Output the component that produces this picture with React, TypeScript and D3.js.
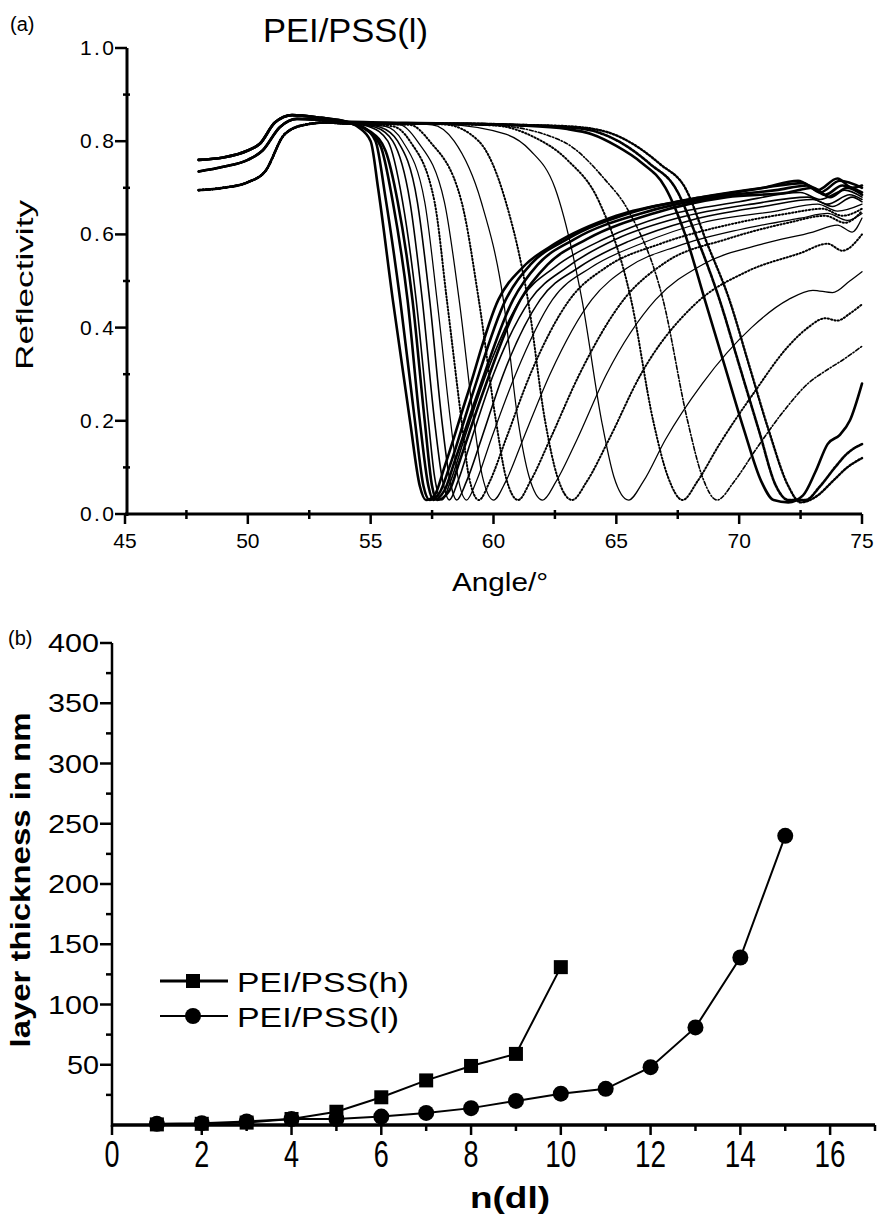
import React from 'react';
import * as d3 from 'd3';

type P = [number, number];

// ---------- Panel (a): SPR reflectivity spectra (angle in deg, reflectivity) ----------
const headHigh: P[] = [[48,0.76],[49,0.765],[50,0.78],[50.5,0.795],[51.1,0.84],[51.8,0.856],[53,0.85],[54,0.842]];
const headMid: P[] = [[48,0.735],[49,0.745],[50,0.76],[50.6,0.78],[51.3,0.83],[52,0.848],[53,0.845],[54,0.84]];
const headLow: P[] = [[48,0.695],[49,0.70],[50,0.712],[50.7,0.735],[51.5,0.815],[52.3,0.835],[53.2,0.84],[54,0.838]];

const specT1: P[] = [...headHigh,[54.5,0.83],[55.0,0.80],[55.3,0.70],[55.9,0.46],[56.6,0.20],[57.0,0.06],[57.25,0.03],[57.6,0.04],[58.0,0.10],[58.9,0.25],[60.2,0.46],[61.2,0.53],[62.5,0.58],[65,0.64],[68,0.675],[71,0.70],[72.4,0.715],[73.2,0.695],[74,0.72],[74.6,0.70],[75,0.705]];
const specT2: P[] = [...headHigh,[54.7,0.83],[55.2,0.80],[55.6,0.68],[56.2,0.46],[56.8,0.20],[57.15,0.06],[57.4,0.03],[57.8,0.045],[58.2,0.10],[59.1,0.25],[60.5,0.46],[61.5,0.535],[63,0.59],[65.5,0.645],[68.5,0.68],[71,0.70],[72.6,0.71],[73.3,0.69],[74.1,0.715],[75,0.70]];
const specT3: P[] = [...headMid,[54.8,0.825],[55.4,0.79],[55.9,0.67],[56.5,0.46],[57.0,0.20],[57.35,0.06],[57.55,0.03],[58.0,0.05],[58.4,0.11],[59.3,0.25],[60.8,0.46],[61.8,0.535],[63.3,0.59],[66,0.645],[69,0.68],[71.5,0.695],[72.8,0.705],[73.5,0.685],[74.2,0.705],[75,0.69]];
const specT4: P[] = [...headMid,[55.0,0.82],[55.6,0.78],[56.1,0.67],[56.7,0.46],[57.2,0.20],[57.5,0.06],[57.7,0.03],[58.2,0.05],[58.6,0.11],[59.5,0.25],[61.1,0.46],[62.2,0.535],[63.8,0.59],[66.5,0.645],[69.5,0.68],[72,0.69],[73,0.70],[73.7,0.68],[74.4,0.70],[75,0.685]];
const specC1: P[] = [...headMid,[55.0,0.83],[55.7,0.80],[56.3,0.67],[56.85,0.46],[57.35,0.20],[57.6,0.08],[57.9,0.03],[58.25,0.07],[58.8,0.16],[59.7,0.30],[61.1,0.46],[62.5,0.53],[64.5,0.59],[67,0.64],[70,0.67],[72.5,0.69],[73.3,0.675],[74.3,0.695],[75,0.68]];
const specC2: P[] = [...headMid,[55.2,0.83],[55.9,0.80],[56.6,0.67],[57.1,0.46],[57.6,0.20],[57.9,0.08],[58.2,0.03],[58.55,0.07],[59.1,0.16],[60.0,0.30],[61.5,0.46],[63.0,0.53],[65,0.59],[67.5,0.635],[70.5,0.665],[72.8,0.68],[73.6,0.665],[74.5,0.685],[75,0.675]];
const specC3: P[] = [...headHigh,[55.4,0.83],[56.1,0.80],[56.9,0.67],[57.4,0.46],[57.9,0.20],[58.2,0.08],[58.5,0.03],[58.9,0.07],[59.5,0.16],[60.4,0.30],[61.9,0.46],[63.5,0.53],[65.5,0.585],[68,0.63],[71,0.66],[73,0.675],[73.8,0.66],[74.6,0.68],[75,0.67]];
const specC4: P[] = [...headLow,[55.6,0.832],[56.3,0.80],[57.2,0.67],[57.7,0.46],[58.25,0.20],[58.55,0.08],[58.9,0.03],[59.3,0.07],[59.9,0.16],[60.9,0.30],[62.4,0.46],[64.0,0.53],[66,0.58],[68.5,0.625],[71.5,0.65],[73.2,0.665],[74,0.65],[75,0.665]];
const specC5: P[] = [...headLow,[55.9,0.832],[56.6,0.80],[57.6,0.67],[58.1,0.46],[58.7,0.20],[59.0,0.08],[59.4,0.03],[59.85,0.07],[60.5,0.16],[61.5,0.30],[63.1,0.46],[64.6,0.53],[66.8,0.58],[69.5,0.62],[72,0.645],[73.4,0.655],[74.2,0.64],[75,0.655]];
const specC6: P[] = [...headMid,[56.2,0.835],[56.9,0.80],[58.0,0.67],[58.6,0.46],[59.2,0.20],[59.55,0.08],[60.0,0.03],[60.5,0.07],[61.2,0.16],[62.3,0.30],[64.0,0.46],[65.5,0.53],[67.5,0.575],[70,0.61],[72.5,0.635],[73.6,0.645],[74.4,0.63],[75,0.645]];
const specC7: P[] = [...headLow,[56.6,0.835],[57.4,0.80],[58.7,0.67],[59.4,0.46],[60.1,0.20],[60.5,0.08],[61.0,0.03],[61.5,0.07],[62.3,0.16],[63.5,0.30],[65.3,0.46],[67,0.54],[69.5,0.59],[72,0.625],[73.5,0.64],[74.3,0.625],[75,0.65]];
const specC8: P[] = [...headMid,[56,0.838],[57.5,0.835],[58.4,0.80],[59.5,0.67],[60.4,0.46],[61.0,0.20],[61.45,0.08],[62.0,0.03],[62.55,0.07],[63.4,0.16],[64.6,0.30],[66.6,0.46],[68.5,0.535],[71,0.58],[73,0.605],[74,0.62],[74.6,0.605],[75,0.635]];
const specC9: P[] = [...headLow,[56,0.838],[58,0.836],[59.4,0.80],[60.5,0.67],[61.4,0.46],[62.1,0.20],[62.6,0.08],[63.2,0.03],[63.8,0.07],[64.7,0.16],[66.0,0.30],[68.2,0.45],[70.3,0.52],[72.5,0.56],[73.6,0.58],[74.2,0.565],[75,0.60]];
const specC10: P[] = [...headMid,[56,0.838],[58,0.836],[60.5,0.815],[61.5,0.78],[62.5,0.70],[63.6,0.46],[64.4,0.20],[64.9,0.08],[65.5,0.03],[66.1,0.07],[67.0,0.16],[68.5,0.28],[70.5,0.40],[72.0,0.46],[73.0,0.48],[73.8,0.475],[74.5,0.50],[75,0.52]];
const specC11: P[] = [...headLow,[56,0.838],[60,0.834],[61.6,0.81],[63,0.76],[64.3,0.67],[65.6,0.46],[66.5,0.20],[67.1,0.08],[67.7,0.03],[68.3,0.07],[69.2,0.15],[70.6,0.26],[72.0,0.36],[72.8,0.40],[73.5,0.42],[74.0,0.415],[74.5,0.43],[75,0.45]];
const specC12: P[] = [...headMid,[56,0.838],[60,0.834],[62.8,0.80],[64.5,0.72],[65.5,0.65],[66.9,0.46],[67.9,0.20],[68.5,0.08],[69.1,0.03],[69.8,0.07],[70.7,0.14],[71.8,0.22],[72.8,0.28],[73.6,0.31],[74.2,0.33],[75,0.36]];
const specR1: P[] = [...headHigh,[58,0.838],[61,0.834],[63,0.826],[64,0.815],[65,0.79],[66,0.755],[67,0.70],[67.8,0.60],[68.6,0.46],[69.4,0.32],[70.2,0.18],[70.9,0.07],[71.4,0.03],[72,0.025],[72.6,0.04],[73.1,0.09],[73.6,0.15],[74.1,0.17],[74.5,0.20],[75,0.28]];
const specR2: P[] = [...headLow,[58,0.838],[61,0.835],[63,0.83],[64.2,0.82],[65.4,0.79],[66.4,0.75],[67.4,0.70],[68.3,0.59],[69.2,0.46],[70,0.32],[70.8,0.18],[71.5,0.06],[72.0,0.03],[72.7,0.03],[73.3,0.06],[73.9,0.10],[74.4,0.13],[75,0.15]];
const specR3: P[] = [...headLow,[58,0.838],[61,0.835],[63,0.832],[64.6,0.82],[65.8,0.79],[66.8,0.75],[67.8,0.70],[68.7,0.58],[69.6,0.46],[70.4,0.32],[71.2,0.18],[72.0,0.06],[72.5,0.025],[73.2,0.04],[73.8,0.07],[74.4,0.10],[75,0.12]];

const reflTicks = [0, 0.2, 0.4, 0.6, 0.8, 1.0];
const reflTickLabels = ['0.0', '0.2', '0.4', '0.6', '0.8', '1.0'];
const angleTicks = [45, 50, 55, 60, 65, 70, 75];

// ---------- Panel (b): layer thickness ----------
const layersH = [1, 2, 3, 4, 5, 6, 7, 8, 9, 10];
const thickH = [0.5, 1, 2, 5, 11, 23, 37, 49, 59, 131];
const layersL = [1, 2, 3, 4, 5, 6, 7, 8, 9, 10, 11, 12, 13, 14, 15];
const thickL = [1, 1.5, 3, 5, 5, 7, 10, 14, 20, 26, 30, 48, 81, 139, 240];
const thickTicks = [50, 100, 150, 200, 250, 300, 350, 400];
const layerTicks = [0, 2, 4, 6, 8, 10, 12, 14, 16];
const seriesNames = ['PEI/PSS(h)', 'PEI/PSS(l)'];

const FONT = 'Liberation Sans, Arial, sans-serif';

export default function App() {
  const xA = d3.scaleLinear().domain([45, 75]).range([125, 862]);
  const yA = d3.scaleLinear().domain([0, 1]).range([514, 48]);
  const xB = d3.scaleLinear().domain([0, 17]).range([112, 875]);
  const yB = d3.scaleLinear().domain([0, 400]).range([1125, 643]);

  const lineA = d3.line<P>().x(d => xA(d[0])).y(d => yA(d[1])).curve(d3.curveMonotoneX);
  const lineB = d3.line<[number, number]>().x(d => xB(d[0])).y(d => yB(d[1]));

  const bold = { w: 2.6, dash: undefined as string | undefined };
  const solid = { w: 1.6, dash: undefined as string | undefined };
  const thin = { w: 1.25, dash: undefined as string | undefined };
  const dot = { w: 2.0, dash: '1.2 2.2' };
  const dashdot = { w: 1.6, dash: '4 2 1.2 2' };
  const boldDash = { w: 2.6, dash: '2.5 1.5' };
  const boldDot = { w: 2.4, dash: '1.5 2' };

  const spectra: { d: P[]; s: { w: number; dash?: string } }[] = [
    { d: specT1, s: bold }, { d: specT2, s: bold }, { d: specT3, s: bold }, { d: specT4, s: bold },
    { d: specC1, s: solid }, { d: specC2, s: solid }, { d: specC3, s: solid }, { d: specC4, s: thin },
    { d: specC5, s: dot }, { d: specC6, s: thin }, { d: specC7, s: dot }, { d: specC8, s: thin },
    { d: specC9, s: dot }, { d: specC10, s: thin }, { d: specC11, s: dot }, { d: specC12, s: dashdot },
    { d: specR1, s: bold }, { d: specR2, s: boldDash }, { d: specR3, s: boldDot },
  ];

  const minorA = d3.range(0.1, 1.0, 0.2);
  const minorAx = d3.range(47.5, 75, 5);
  const minorB = d3.range(25, 400, 50);
  const minorBx = d3.range(1, 17.5, 2);

  const dataH: [number, number][] = layersH.map((n, i) => [n, thickH[i]]);
  const dataL: [number, number][] = layersL.map((n, i) => [n, thickL[i]]);

  return (
    <div style={{ position: 'absolute', left: 0, top: 0 }}>
      <svg width={877} height={1222} style={{ display: 'block', background: '#fff' }} fontFamily={FONT}>
        {/* ===== Panel (a) ===== */}
        <text x={10} y={31} fontSize={20}>(a)</text>
        <text x={263} y={42} fontSize={34} textLength={165} lengthAdjust="spacingAndGlyphs">PEI/PSS(l)</text>

        <g fill="none" stroke="#000" strokeLinecap="round" strokeLinejoin="round">
          {spectra.map((c, i) => (
            <path key={i} d={lineA(c.d) || ''} strokeWidth={c.s.w} strokeDasharray={c.s.dash} />
          ))}
        </g>

        {/* axes a */}
        <line x1={xA(45) + 2} x2={xA(45) + 2} y1={yA(1)} y2={yA(0) + 2} stroke="#000" strokeWidth={3} />
        <line x1={xA(45)} x2={xA(75)} y1={yA(0)} y2={yA(0)} stroke="#000" strokeWidth={3} />
        {reflTicks.map((t, i) => (
          <g key={'ya' + i}>
            <line x1={xA(45) - 10} x2={xA(45) + 2} y1={yA(t)} y2={yA(t)} stroke="#000" strokeWidth={2.5} />
            <text x={114} y={yA(t) + 7} fontSize={21} textAnchor="end" textLength={34} lengthAdjust="spacing">{reflTickLabels[i]}</text>
          </g>
        ))}
        {minorA.map((t, i) => (
          <line key={'yam' + i} x1={xA(45) - 2} x2={xA(45) + 5} y1={yA(t)} y2={yA(t)} stroke="#000" strokeWidth={2.5} />
        ))}
        {angleTicks.map((t, i) => (
          <g key={'xa' + i}>
            <line x1={xA(t)} x2={xA(t)} y1={yA(0)} y2={yA(0) + 10} stroke="#000" strokeWidth={2.5} />
            <text x={xA(t)} y={548} fontSize={21} textAnchor="middle">{String(t)}</text>
          </g>
        ))}
        {minorAx.map((t, i) => (
          <line key={'xam' + i} x1={xA(t)} x2={xA(t)} y1={yA(0) - 4} y2={yA(0) + 5} stroke="#000" strokeWidth={2.5} />
        ))}
        <text transform="translate(33,285) rotate(-90)" fontSize={24} textAnchor="middle" textLength={170} lengthAdjust="spacingAndGlyphs">Reflectivity</text>
        <text x={452} y={591} fontSize={25} textLength={96} lengthAdjust="spacingAndGlyphs">Angle/°</text>

        {/* ===== Panel (b) ===== */}
        <text x={8} y={645} fontSize={20}>(b)</text>

        <line x1={xB(0)} x2={xB(0)} y1={yB(400)} y2={yB(0) + 2} stroke="#000" strokeWidth={2.5} />
        <line x1={xB(0)} x2={xB(17)} y1={yB(0)} y2={yB(0)} stroke="#000" strokeWidth={3.5} />
        {thickTicks.map((t, i) => (
          <g key={'yb' + i}>
            <line x1={xB(0) - 12} x2={xB(0)} y1={yB(t)} y2={yB(t)} stroke="#000" strokeWidth={2.5} />
            <text x={99} y={yB(t) + 9} fontSize={26} textAnchor="end" textLength={t >= 100 ? 51 : 32} lengthAdjust="spacingAndGlyphs">{String(t)}</text>
          </g>
        ))}
        {minorB.map((t, i) => (
          <line key={'ybm' + i} x1={xB(0) - 6} x2={xB(0)} y1={yB(t)} y2={yB(t)} stroke="#000" strokeWidth={2.5} />
        ))}
        {layerTicks.map((t, i) => (
          <g key={'xb' + i}>
            <line x1={xB(t)} x2={xB(t)} y1={yB(0)} y2={yB(0) + 10} stroke="#000" strokeWidth={2.5} />
            <text x={xB(t)} y={1167} fontSize={36} textAnchor="middle" textLength={t >= 10 ? 31 : 15} lengthAdjust="spacingAndGlyphs">{String(t)}</text>
          </g>
        ))}
        {minorBx.map((t, i) => (
          <line key={'xbm' + i} x1={xB(t)} x2={xB(t)} y1={yB(0)} y2={yB(0) + 6} stroke="#000" strokeWidth={2.5} />
        ))}

        <path d={lineB(dataL) || ''} fill="none" stroke="#000" strokeWidth={2} />
        <path d={lineB(dataH) || ''} fill="none" stroke="#000" strokeWidth={2} />
        {dataL.map((d, i) => (
          <circle key={'cl' + i} cx={xB(d[0])} cy={yB(d[1])} r={8} fill="#000" />
        ))}
        {dataH.map((d, i) => (
          <rect key={'sh' + i} x={xB(d[0]) - 7} y={yB(d[1]) - 7} width={14} height={14} fill="#000" />
        ))}

        {/* legend */}
        <line x1={160} x2={228} y1={981} y2={981} stroke="#000" strokeWidth={3} />
        <rect x={186} y={974} width={14} height={14} fill="#000" />
        <text x={237} y={992} fontSize={28} textLength={172} lengthAdjust="spacingAndGlyphs">{seriesNames[0]}</text>
        <line x1={160} x2={228} y1={1016} y2={1016} stroke="#000" strokeWidth={2} />
        <circle cx={193} cy={1016} r={8} fill="#000" />
        <text x={237} y={1027} fontSize={28} textLength={162} lengthAdjust="spacingAndGlyphs">{seriesNames[1]}</text>

        <text transform="translate(30,880) rotate(-90)" fontSize={27} fontWeight="bold" textAnchor="middle" textLength={335} lengthAdjust="spacingAndGlyphs">layer thickness in nm</text>
        <text x={510} y={1208} fontSize={30} fontWeight="bold" textAnchor="middle" textLength={80} lengthAdjust="spacingAndGlyphs">n(dl)</text>
      </svg>
    </div>
  );
}
